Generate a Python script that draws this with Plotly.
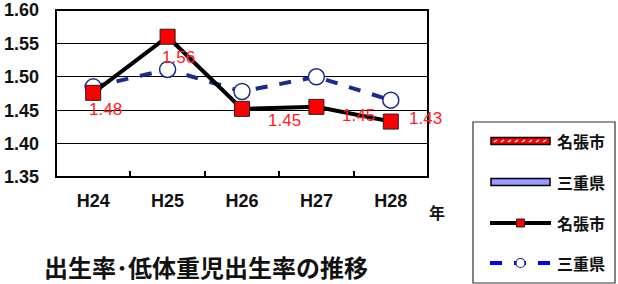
import plotly.graph_objects as go

years = ["H24", "H25", "H26", "H27", "H28"]
nabari = [1.476, 1.56, 1.452, 1.455, 1.433]
mie = [1.485, 1.511, 1.478, 1.50, 1.465]
nabari_labels = ["1.48", "1.56", "1.45", "1.45", "1.43"]
y_ticks = [1.35, 1.40, 1.45, 1.50, 1.55, 1.60]
legend_names = ["名張市", "三重県", "名張市", "三重県"]
title_text = "出生率･低体重児出生率の推移"

L, R, T, B = 56, 428, 10, 177

fig = go.Figure()
fig.add_trace(go.Scatter(
    x=years, y=mie, mode="lines+markers", name="三重県",
    line=dict(color="#1c2a8c", width=4, dash="dash"),
    marker=dict(symbol="circle", size=16, color="white", line=dict(color="#1c2a8c", width=1.5)),
))
fig.add_trace(go.Scatter(
    x=years, y=nabari, mode="lines+markers", name="名張市",
    line=dict(color="black", width=4),
    marker=dict(symbol="square", size=15, color="#ff0000", line=dict(color="#222", width=1)),
))

shifts = [(12, -17), (11, -21), (42, -12), (42, -9), (35, 3)]
for i, (xs, ys) in enumerate(shifts):
    fig.add_annotation(x=years[i], y=nabari[i], text=nabari_labels[i], showarrow=False,
                       xshift=xs, yshift=ys, xanchor="center", yanchor="middle",
                       font=dict(family="Liberation Sans, Arial", size=17, color="#ff2020"))

def px(xp):
    return (xp - L) / float(R - L)

def py(yp):
    return (B - yp) / float(B - T)

# plot border
fig.add_shape(type="rect", xref="paper", yref="paper", x0=0, x1=1, y0=0, y1=1,
              line=dict(color="black", width=2), layer="above")

# year unit
fig.add_annotation(xref="paper", yref="paper", x=px(437), y=py(212), text="年", showarrow=False,
                   xanchor="center", yanchor="middle",
                   font=dict(family="Noto Sans CJK JP", size=16, color="#111", weight="bold"))
# title
fig.add_annotation(xref="paper", yref="paper", x=px(43), xanchor="left", y=py(266), yanchor="middle",
                   text=title_text, showarrow=False, borderpad=0,
                   font=dict(family="Noto Sans CJK JP", size=24, color="#111", weight="bold"))

# manual legend
fig.add_shape(type="rect", xref="paper", yref="paper", x0=px(473), x1=px(615), y0=py(283), y1=py(122),
              line=dict(color="#333", width=1.2), fillcolor="white")
fig.add_shape(type="rect", xref="paper", yref="paper", x0=px(491), x1=px(550), y0=py(144.5), y1=py(137.5),
              line=dict(color="black", width=1.5), fillcolor="#ff0000")
for k in range(8):
    xa = 494 + k * 7
    fig.add_shape(type="line", xref="paper", yref="paper", x0=px(xa), x1=px(xa + 3), y0=py(142), y1=py(140),
                  line=dict(color="white", width=1.5))
fig.add_shape(type="rect", xref="paper", yref="paper", x0=px(491), x1=px(550), y0=py(185.5), y1=py(178.5),
              line=dict(color="black", width=1.5), fillcolor="#9999ff")
fig.add_shape(type="line", xref="paper", yref="paper", x0=px(490), x1=px(551), y0=py(223), y1=py(223),
              line=dict(color="black", width=4))
fig.add_shape(type="rect", xref="paper", yref="paper", x0=px(516.5), x1=px(524.5), y0=py(227), y1=py(219),
              line=dict(color="#222", width=1), fillcolor="#ff0000")
fig.add_shape(type="line", xref="paper", yref="paper", x0=px(490), x1=px(551), y0=py(263), y1=py(263),
              line=dict(color="#0000ee", width=4, dash="dash"))
fig.add_shape(type="circle", xref="paper", yref="paper", x0=px(516), x1=px(525), y0=py(267.5), y1=py(258.5),
              line=dict(color="#1c2a8c", width=1.2), fillcolor="white")
for name, yp in zip(legend_names, [141, 182, 223, 263]):
    fig.add_annotation(xref="paper", yref="paper", x=px(555), xanchor="left", y=py(yp), yanchor="middle",
                       text=name, showarrow=False,
                       font=dict(family="Noto Sans CJK JP", size=16, color="#111", weight="bold"))

fig.update_layout(
    width=618, height=284,
    margin=dict(l=L, r=618 - R, t=T, b=284 - B, autoexpand=False),
    paper_bgcolor="white", plot_bgcolor="white",
    showlegend=False,
    xaxis=dict(type="category", range=[-0.5, 4.5], showgrid=False, showline=False, automargin=False,
               ticks="inside", ticklen=6, tickcolor="black", tickwidth=1.5,
               tickson="boundaries", ticklabelstandoff=11,
               tickfont=dict(family="Liberation Sans, Arial", size=18, color="#111", weight="bold")),
    yaxis=dict(range=[1.35, 1.60], tickvals=y_ticks, tickformat=".2f", showgrid=True, gridcolor="black",
               gridwidth=1, showline=False, ticks="", automargin=False,
               ticklabelstandoff=16, zeroline=False,
               tickfont=dict(family="Liberation Sans, Arial", size=18, color="#111", weight="bold")),
)

fig.write_html("out.html", config={"displayModeBar": False},
               post_script="document.body.style.margin='0';document.body.style.overflow='hidden';")
